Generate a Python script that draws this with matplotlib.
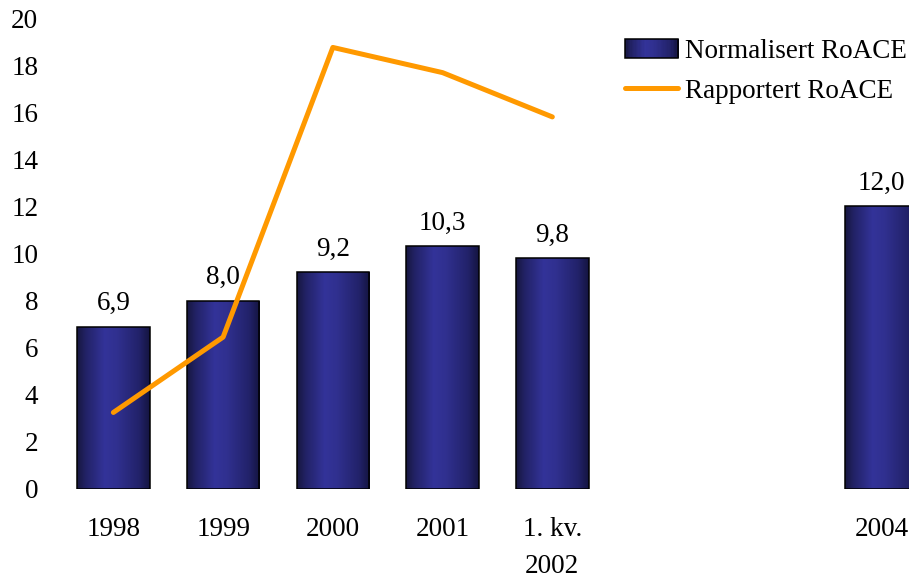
import numpy as np
import matplotlib
matplotlib.use("Agg")
import matplotlib.pyplot as plt
from matplotlib.patches import Rectangle
from matplotlib.legend_handler import HandlerBase
from matplotlib.colors import LinearSegmentedColormap
from matplotlib.lines import Line2D

plt.rcParams['font.family'] = ['Liberation Serif', 'DejaVu Serif']

categories = ['1998', '1999', '2000', '2001', '1. kv.\n2002', '', '', '2004']
normalisert = [6.9, 8.0, 9.2, 10.3, 9.8, np.nan, np.nan, 12.0]
rapportert = [3.25, 6.45, 18.75, 17.68, 15.8, np.nan, np.nan, np.nan]
value_labels = ['6,9', '8,0', '9,2', '10,3', '9,8', '', '', '12,0']
yticks = [0, 2, 4, 6, 8, 10, 12, 14, 16, 18, 20]

FS = 19.5
W, H = 909, 578
fig = plt.figure(figsize=(W / 100, H / 100), dpi=100)
ax = fig.add_axes([58.5 / W, (H - 489) / H, 1 - 58.5 / W, (489 - 18) / H])

cmap = LinearSegmentedColormap.from_list(
    'bar', [(0.0, '#17173f'), (0.12, '#222266'), (0.38, '#333399'),
            (0.55, '#30308f'), (0.85, '#22226a'), (1.0, '#141440')])
grad = np.linspace(0, 1, 256).reshape(1, -1)

x = np.arange(len(categories))
width = 0.66
bars = ax.bar(x, normalisert, width=width, facecolor='none', edgecolor='black',
              linewidth=1.1, zorder=3)
for b, v in zip(bars, normalisert):
    if np.isnan(v):
        continue
    x0 = b.get_x()
    im = ax.imshow(grad, extent=[x0, x0 + b.get_width(), 0, v], aspect='auto',
                   cmap=cmap, zorder=2.5, interpolation='bilinear')
    im.set_clip_path(b)

for xi, v, lab in zip(x, normalisert, value_labels):
    if np.isnan(v) or not lab:
        continue
    ax.annotate(lab, (xi, v), xytext=(0, 12), textcoords='offset points',
                ha='center', va='baseline', fontsize=FS, color='black')

ax.plot(x, rapportert, color='#FF9900', linewidth=3.6, solid_capstyle='round',
        solid_joinstyle='round', zorder=4)

ax.set_xlim(-0.5, 7.25)
ax.set_ylim(0, 20)
ax.set_yticks(yticks)
ax.set_yticklabels([str(t) for t in yticks], fontsize=FS)
ax.set_xticks([xi for xi, c in zip(x, categories) if c])
ax.set_xticklabels([c for c in categories if c], fontsize=FS, linespacing=1.6)
ax.tick_params(axis='y', length=0, pad=14.5)
ax.tick_params(axis='x', length=0, pad=20.5)
for s in ax.spines.values():
    s.set_visible(False)


class HandlerGradient(HandlerBase):
    def create_artists(self, legend, orig_handle, xdescent, ydescent, width,
                       height, fontsize, trans):
        arts = []
        n = 40
        for i in range(n):
            r = Rectangle((-xdescent + width * i / n, -ydescent), width / n + 0.3,
                          height, facecolor=cmap((i + 0.5) / n), edgecolor='none',
                          transform=trans)
            arts.append(r)
        arts.append(Rectangle((-xdescent, -ydescent), width, height,
                              facecolor='none', edgecolor='black', linewidth=1.1,
                              transform=trans))
        return arts


bar_handle = Rectangle((0, 0), 1, 1)
line_handle = Line2D([], [], color='#FF9900', linewidth=3.6, solid_capstyle='round')
fig.legend([bar_handle, line_handle], ['Normalisert RoACE', 'Rapportert RoACE'],
           handler_map={Rectangle: HandlerGradient()},
           loc='upper left', bbox_to_anchor=(625 / W, (H - 39) / H),
           frameon=False, fontsize=FS, borderpad=0, borderaxespad=0,
           handlelength=1.96, handleheight=0.7, handletextpad=0.26,
           labelspacing=0.55)

fig.savefig('out.png', dpi=100)
